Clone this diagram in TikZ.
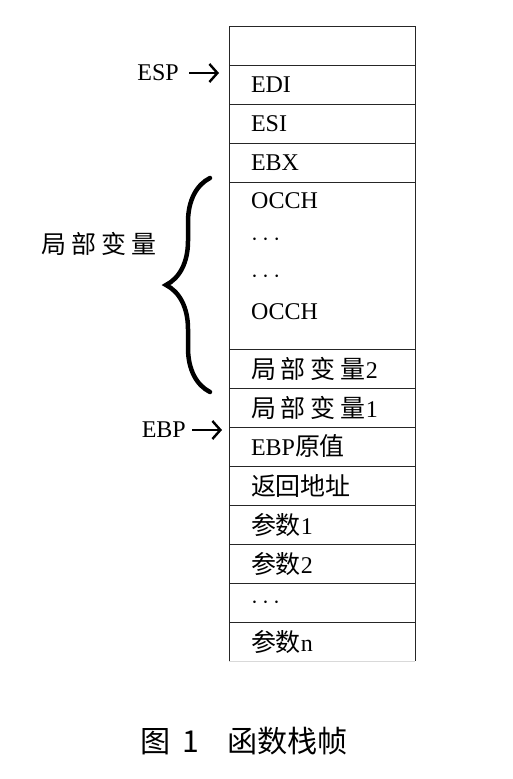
\documentclass[tikz,border=0pt]{standalone}
\usepackage{fontspec}
\setmainfont{Liberation Serif}
\newfontfamily\cjk[Scale=1.04]{Noto Sans CJK SC}
\usetikzlibrary{positioning,arrows.meta,decorations.pathreplacing}

\newcommand{\hz}[1]{{\cjk #1}}
\newcommand{\jbbl}{\hz{局\hspace{5pt}部\hspace{5pt}变\hspace{5pt}量}}

\tikzset{
  frame/.style={draw=black!85, line width=1pt},
  cell/.style={frame, rectangle, outer sep=0pt, minimum width=186pt,
    minimum height=39pt, inner xsep=22pt, inner ysep=0pt, text width=142pt,
    align=left, font=\fontsize{24}{28}\selectfont},
  lastcell/.style={cell, draw=none},
  tag/.style={inner sep=2pt, font=\fontsize{24}{28}\selectfont},
  ptr/.style={line width=2.4pt, -{Straight Barb[length=8pt,width=18pt]}},
  brc/.style={line width=4.5pt, line cap=round, decorate,
    decoration={brace, amplitude=44pt}}
}

\begin{document}
\begin{tikzpicture}[x=1pt, y=-1pt]
\useasboundingbox (0,0) rectangle (513,779);

% the frame, top to bottom
\node[cell, anchor=north] (empty) at (322,26) {};
\node[cell, below=0pt of empty] (edi) {EDI};
\node[cell, below=0pt of edi] (esi) {ESI};
\node[cell, below=0pt of esi] (ebx) {EBX};
\node[cell, below=0pt of ebx, minimum height=167pt] (locals) {};
\node[anchor=north west, inner xsep=22pt, inner ysep=0pt, align=left,
  font=\fontsize{24}{37}\selectfont] (occh) at ([yshift=-10pt]locals.north west)
  {OCCH\\$\cdots$\\$\cdots$\\OCCH};
\node[cell, below=0pt of locals] (var2) {\jbbl 2};
\node[cell, below=0pt of var2] (var1) {\jbbl 1};
\node[cell, below=0pt of var1] (ebpold) {EBP\hz{原值}};
\node[cell, below=0pt of ebpold] (ret) {\hz{返回地址}};
\node[cell, below=0pt of ret] (arg1) {\hz{参数}1};
\node[cell, below=0pt of arg1] (arg2) {\hz{参数}2};
\node[cell, below=0pt of arg2] (dots) {$\cdots$};
\node[lastcell, below=0pt of dots] (argn) {\hz{参数}n};
\draw[frame] (argn.north west) -- (argn.south west);
\draw[frame] (argn.north east) -- (argn.south east);
\draw[black!15, line width=1pt] (argn.south west) -- (argn.south east);

% pointers
\coordinate (espptr) at ([xshift=-10pt,yshift=-8pt]edi.north west);
\node[tag, left=38pt of espptr] (esp) {ESP};
\draw[ptr, shorten <=8pt] (esp) -- (espptr);

\coordinate (ebpptr) at ([xshift=-7pt,yshift=-3pt]ebpold.north west);
\node[tag, left=34pt of ebpptr] (ebp) {EBP};
\draw[ptr, shorten <=4pt] (ebp) -- (ebpptr);

% local variables
\coordinate (brcbot) at ([xshift=-19pt,yshift=-4pt]var2.south west);
\coordinate (brctop) at ([xshift=-19pt,yshift=4pt]locals.north west);
\draw[brc] (brcbot) -- (brctop);
\node[tag] (jbbl) at (99,244) {\jbbl};

\node[anchor=west, inner sep=0pt, font=\cjk\fontsize{29}{30}\selectfont] (caption)
  at (140,741) {图\hspace{12pt}1\hspace{28pt}函数栈帧};
\end{tikzpicture}
\end{document}
